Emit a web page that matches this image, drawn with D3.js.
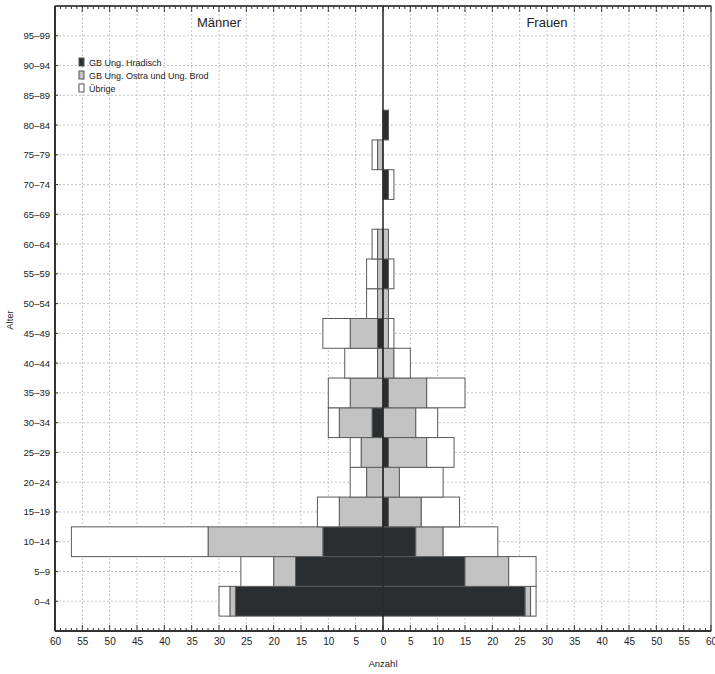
<!DOCTYPE html>
<html>
<head>
<meta charset="utf-8">
<script src="https://cdn.jsdelivr.net/npm/d3@7"></script>
<style>
  body { margin: 0; background: #fff; }
  svg text { font-family: "Liberation Sans", Arial, Helvetica, sans-serif; fill: #222; }
  .grid line { stroke: #b5b5b5; stroke-width: 0.8; stroke-dasharray: 2,2; }
</style>
</head>
<body>
<svg id="chart" width="715" height="674"></svg>
<script>
// Altersgruppen (von unten nach oben)
const ageGroups = ['0–4','5–9','10–14','15–19','20–24','25–29','30–34','35–39','40–44','45–49',
  '50–54','55–59','60–64','65–69','70–74','75–79','80–84','85–89','90–94','95–99'];

// Männer
const menHradisch = [27, 16, 11, 0, 0, 0, 2, 0, 0, 1, 0, 0, 0, 0, 0, 0, 0, 0, 0, 0];
const menOstra    = [1, 4, 21, 8, 3, 4, 6, 6, 1, 5, 1, 1, 1, 0, 0, 1, 0, 0, 0, 0];
const menUebrige  = [2, 6, 25, 4, 3, 2, 2, 4, 6, 5, 2, 2, 1, 0, 0, 1, 0, 0, 0, 0];

// Frauen
const womenHradisch = [26, 15, 6, 1, 0, 1, 0, 1, 0, 0, 0, 1, 0, 0, 1, 0, 1, 0, 0, 0];
const womenOstra    = [1, 8, 5, 6, 3, 7, 6, 7, 2, 1, 1, 0, 1, 0, 0, 0, 0, 0, 0, 0];
const womenUebrige  = [1, 5, 10, 7, 8, 5, 4, 7, 3, 1, 0, 1, 0, 0, 1, 0, 0, 0, 0, 0];

const seriesNames = ['GB Ung. Hradisch', 'GB Ung. Ostra und Ung. Brod', 'Übrige'];
const colors = ['#2b2e31', '#c3c3c3', '#ffffff'];
const xTicks = d3.range(-60, 61, 5);

const svg = d3.select('#chart');
const pLeft = 55, pRight = 711, pTop = 6, pBottom = 631;

const x = d3.scaleLinear().domain([-60, 60]).range([pLeft, pRight]);
const y = d3.scaleLinear().domain([-1, 20]).range([pBottom, pTop]);
const band = y(0) - y(1);

// Gitter
const grid = svg.append('g').attr('class', 'grid');
grid.selectAll('line.v').data(xTicks.filter(d => d > -60 && d < 60 && d !== 0))
  .enter().append('line').attr('class', 'v')
  .attr('x1', d => x(d)).attr('x2', d => x(d))
  .attr('y1', pTop).attr('y2', pBottom);
grid.selectAll('line.h').data(ageGroups)
  .enter().append('line').attr('class', 'h')
  .attr('x1', pLeft).attr('x2', pRight)
  .attr('y1', (d, i) => y(i)).attr('y2', (d, i) => y(i));

// gestapelte Balken
function stackRows(a, b, c, sign) {
  let rows = [];
  ageGroups.forEach((g, i) => {
    let vals = [a[i], b[i], c[i]];
    let acc = 0;
    vals.forEach((v, k) => {
      if (v > 0) rows.push({ i: i, k: k, x0: sign * acc, x1: sign * (acc + v) });
      acc += v;
    });
  });
  return rows;
}
const segs = stackRows(menHradisch, menOstra, menUebrige, -1)
  .concat(stackRows(womenHradisch, womenOstra, womenUebrige, 1));

svg.append('g').selectAll('rect').data(segs)
  .enter().append('rect')
  .attr('x', d => x(Math.min(d.x0, d.x1)))
  .attr('width', d => Math.abs(x(d.x1) - x(d.x0)))
  .attr('y', d => y(d.i) - band / 2)
  .attr('height', band)
  .attr('fill', d => colors[d.k])
  .attr('stroke', '#5a5a5a')
  .attr('stroke-width', 1);

// Nulllinie
svg.append('line')
  .attr('x1', x(0)).attr('x2', x(0)).attr('y1', pTop).attr('y2', pBottom)
  .attr('stroke', '#222').attr('stroke-width', 1.5);

// Rahmen
svg.append('rect')
  .attr('x', pLeft).attr('y', pTop).attr('width', pRight - pLeft).attr('height', pBottom - pTop)
  .attr('fill', 'none').attr('stroke', '#444').attr('stroke-width', 1);
svg.append('line').attr('x1', pLeft).attr('x2', pLeft).attr('y1', pTop).attr('y2', pBottom)
  .attr('stroke', '#333').attr('stroke-width', 2);
svg.append('line').attr('x1', pLeft).attr('x2', pRight).attr('y1', pBottom).attr('y2', pBottom)
  .attr('stroke', '#333').attr('stroke-width', 2);
svg.append('line').attr('x1', pLeft).attr('x2', pRight).attr('y1', pTop).attr('y2', pTop)
  .attr('stroke', '#333').attr('stroke-width', 1.5);

// Achsen unten und oben
const minor = d3.range(-60, 61, 1);
const xAxis = d3.axisBottom(x).tickValues(xTicks).tickFormat(d => Math.abs(d)).tickSize(0).tickPadding(7);
const gx = svg.append('g').attr('transform', `translate(0,${pBottom})`).call(xAxis);
gx.select('.domain').remove();
gx.selectAll('text').style('font-size', '10px').attr('fill', '#222');

[pBottom, pTop].forEach(yy => {
  const dir = yy === pBottom ? -1 : 1;
  svg.append('g').selectAll('line').data(minor)
    .enter().append('line')
    .attr('x1', d => x(d)).attr('x2', d => x(d))
    .attr('y1', yy).attr('y2', d => yy + dir * (d % 5 === 0 ? 6 : 3))
    .attr('stroke', '#333').attr('stroke-width', 1);
});

// y-Achse
const yAxis = d3.axisLeft(y).tickValues(d3.range(ageGroups.length))
  .tickFormat(i => ageGroups[i]).tickSize(0).tickPadding(5);
const gy = svg.append('g').attr('transform', `translate(${pLeft},0)`).call(yAxis);
gy.select('.domain').remove();
gy.selectAll('text').style('font-size', '9.5px').attr('fill', '#222');
svg.append('g').selectAll('line').data(ageGroups)
  .enter().append('line')
  .attr('x1', pLeft).attr('x2', pLeft + 3)
  .attr('y1', (d, i) => y(i)).attr('y2', (d, i) => y(i))
  .attr('stroke', '#333');

// Beschriftungen
svg.append('text').attr('x', x(-30)).attr('y', 27).attr('text-anchor', 'middle')
  .style('font-size', '13px').text('Männer');
svg.append('text').attr('x', x(30)).attr('y', 27).attr('text-anchor', 'middle')
  .style('font-size', '13px').text('Frauen');
svg.append('text').attr('x', x(0)).attr('y', 667).attr('text-anchor', 'middle')
  .style('font-size', '9.5px').text('Anzahl');
svg.append('text').attr('transform', 'translate(13,320) rotate(-90)').attr('text-anchor', 'middle')
  .style('font-size', '9.5px').text('Alter');

// Legende
const legend = svg.append('g').attr('transform', 'translate(79,58)');
const li = legend.selectAll('g').data(seriesNames).enter().append('g')
  .attr('transform', (d, i) => `translate(0,${i * 13})`);
li.append('rect').attr('x', 0).attr('y', 0).attr('width', 5).attr('height', 8)
  .attr('fill', (d, i) => colors[i]).attr('stroke', '#555').attr('stroke-width', 1);
li.append('text').attr('x', 10).attr('y', 7.5).style('font-size', '9px').text(d => d);
</script>
</body>
</html>
